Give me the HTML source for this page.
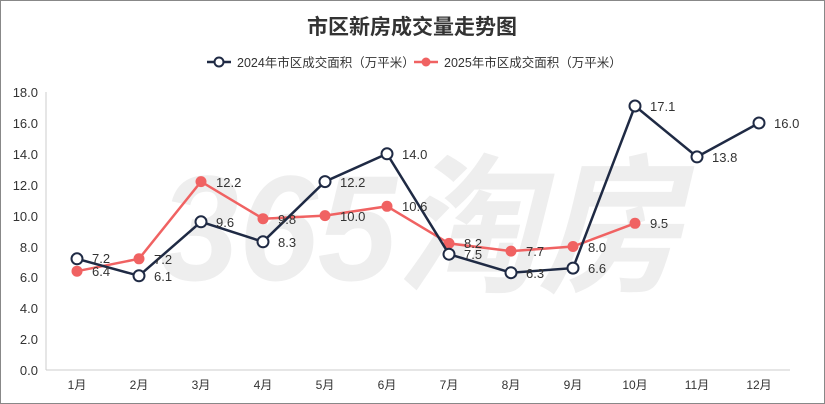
<!DOCTYPE html><html><head><meta charset="utf-8"><style>body{margin:0;background:#fff}svg{display:block}text{font-family:"Liberation Sans","Noto Sans CJK SC",sans-serif}</style></head><body>
<svg width="825" height="404" viewBox="0 0 825 404">
<rect x="0.5" y="0.5" width="824" height="403" fill="#fff" stroke="#888"/>
<text x="412" y="34" text-anchor="middle" font-size="21" font-weight="bold" fill="#333">市区新房成交量走势图</text>
<line x1="207" y1="62" x2="231" y2="62" stroke="#1f2a44" stroke-width="2.5"/><circle cx="219" cy="62" r="4.5" fill="#fff" stroke="#1f2a44" stroke-width="2"/>
<text x="237" y="67" font-size="12.5" fill="#333">2024年市区成交面积（万平米）</text>
<line x1="414" y1="62" x2="438" y2="62" stroke="#f06262" stroke-width="2.5"/><circle cx="426" cy="62" r="4.5" fill="#f06262"/>
<text x="444" y="67" font-size="12.5" fill="#333">2025年市区成交面积（万平米）</text>
<text x="420" y="280" text-anchor="middle" font-size="150" font-weight="bold" fill="#eeeeee" font-style="italic" textLength="520" lengthAdjust="spacingAndGlyphs">365淘房</text>
<line x1="46" y1="92" x2="46" y2="370" stroke="#ccc"/>
<line x1="46" y1="370" x2="790" y2="370" stroke="#ccc"/>
<g font-size="13" fill="#333" text-anchor="end">
<text x="38" y="375">0.0</text><text x="38" y="344">2.0</text><text x="38" y="313">4.0</text><text x="38" y="282">6.0</text><text x="38" y="252">8.0</text><text x="38" y="221">10.0</text><text x="38" y="190">12.0</text><text x="38" y="159">14.0</text><text x="38" y="128">16.0</text><text x="38" y="97">18.0</text>
</g>
<g font-size="12" fill="#333" text-anchor="middle">
<text x="77" y="389">1月</text><text x="139" y="389">2月</text><text x="201" y="389">3月</text><text x="263" y="389">4月</text><text x="325" y="389">5月</text><text x="387" y="389">6月</text><text x="449" y="389">7月</text><text x="511" y="389">8月</text><text x="573" y="389">9月</text><text x="635" y="389">10月</text><text x="697" y="389">11月</text><text x="759" y="389">12月</text>
</g>
<polyline fill="none" stroke="#f06262" stroke-width="2.5" points="77,271.2 139,258.8 201,181.6 263,218.7 325,215.6 387,206.3 449,243.4 511,251.1 573,246.5 635,223.3"/>
<g fill="#f06262"><circle cx="77" cy="271.2" r="5.5"/><circle cx="139" cy="258.8" r="5.5"/><circle cx="201" cy="181.6" r="5.5"/><circle cx="263" cy="218.7" r="5.5"/><circle cx="325" cy="215.6" r="5.5"/><circle cx="387" cy="206.3" r="5.5"/><circle cx="449" cy="243.4" r="5.5"/><circle cx="511" cy="251.1" r="5.5"/><circle cx="573" cy="246.5" r="5.5"/><circle cx="635" cy="223.3" r="5.5"/></g>
<polyline fill="none" stroke="#1f2a44" stroke-width="2.5" points="77,258.8 139,275.8 201,221.8 263,241.8 325,181.6 387,153.8 449,254.2 511,272.7 573,268.1 635,106 697,156.9 759,123"/>
<g fill="#fff" stroke="#1f2a44" stroke-width="2"><circle cx="77" cy="258.8" r="5.5"/><circle cx="139" cy="275.8" r="5.5"/><circle cx="201" cy="221.8" r="5.5"/><circle cx="263" cy="241.8" r="5.5"/><circle cx="325" cy="181.6" r="5.5"/><circle cx="387" cy="153.8" r="5.5"/><circle cx="449" cy="254.2" r="5.5"/><circle cx="511" cy="272.7" r="5.5"/><circle cx="573" cy="268.1" r="5.5"/><circle cx="635" cy="106" r="5.5"/><circle cx="697" cy="156.9" r="5.5"/><circle cx="759" cy="123" r="5.5"/></g>
<g font-size="13" fill="#333">
<text x="92" y="263">7.2</text><text x="154" y="281">6.1</text><text x="216" y="227">9.6</text><text x="278" y="247">8.3</text><text x="340" y="187">12.2</text><text x="402" y="159">14.0</text><text x="464" y="259">7.5</text><text x="526" y="278">6.3</text><text x="588" y="273">6.6</text><text x="650" y="111">17.1</text><text x="712" y="162">13.8</text><text x="774" y="128">16.0</text>
<text x="92" y="276">6.4</text><text x="154" y="264">7.2</text><text x="216" y="187">12.2</text><text x="278" y="224">9.8</text><text x="340" y="221">10.0</text><text x="402" y="211">10.6</text><text x="464" y="248">8.2</text><text x="526" y="256">7.7</text><text x="588" y="252">8.0</text><text x="650" y="228">9.5</text>
</g>
</svg></body></html>
